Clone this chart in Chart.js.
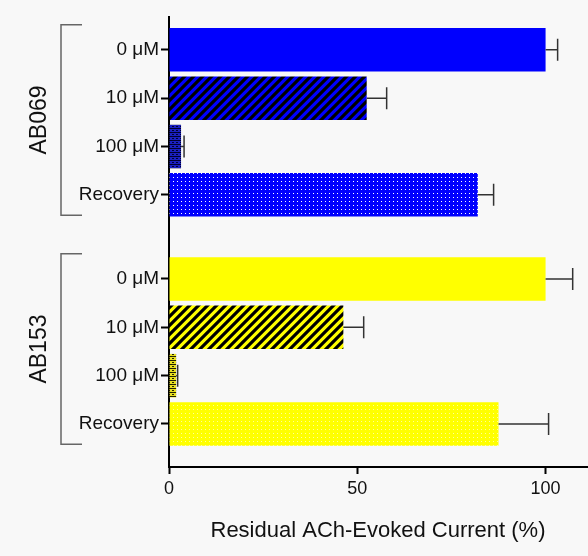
<!DOCTYPE html>
<html>
<head>
<meta charset="utf-8">
<script src="https://cdn.jsdelivr.net/npm/chart.js@4"></script>
<style>
  body { margin: 0; background: #f8f8f8; }
  canvas { display: block; }
</style>
</head>
<body>
<canvas id="chart" width="588" height="556"></canvas>
<script>
// data
var conditions = ["0 \u03bcM", "10 \u03bcM", "100 \u03bcM", "Recovery"]
var groups = ["AB069", "AB153"]
var ab069 = [100, 52.5, 3.2, 82]
var ab069Err = [3.2, 5.3, 0.8, 4.2]
var ab153 = [100, 46.3, 1.9, 87.5]
var ab153Err = [7.2, 5.4, 0.4, 13.3]
var xTicks = [0, 50, 100]
// row positions on the y axis (gap between the two groups)
var rows = [0, 1, 2, 3, 4.74, 5.74, 6.74, 7.74]

var allLabels = conditions.concat(conditions)
var font = "'Liberation Sans', Arial, Helvetica, sans-serif"

function pattern(kind, color, dot) {
    if (kind == "solid") return color
    var c = document.createElement("canvas")
    var g = c.getContext("2d")
    var s = kind == "stripes" ? 9 : 4
    c.width = s; c.height = s
    g.fillStyle = color
    g.fillRect(0, 0, s, s)
    if (kind == "stripes") {
        g.strokeStyle = "#000"
        g.lineWidth = 3.2
        g.beginPath()
        g.moveTo(-2, 2); g.lineTo(2, -2)
        g.moveTo(0, s); g.lineTo(s, 0)
        g.moveTo(s - 2, s + 2); g.lineTo(s + 2, s - 2)
        g.stroke()
    } else if (kind == "grid") {
        g.fillStyle = dot
        g.fillRect(0, 0, s, 1)
        g.fillRect(0, 2, 2, 1)
    } else if (kind == "dots") {
        g.fillStyle = dot
        g.fillRect(1, 1, 1, 1)
    }
    return g.createPattern(c, "repeat")
}

var blue = "#0000fe"
var yellow = "#ffff00"
var blueFills = [pattern("solid", blue), pattern("stripes", blue), pattern("grid", "#1a20c0", "#000030"), pattern("dots", blue, "#ffffff")]
var yellowFills = [pattern("solid", yellow), pattern("stripes", yellow), pattern("grid", "#e8e020", "#222200"), pattern("dots", yellow, "#ffff9a")]

var errors = [ab069Err, ab153Err]

var extras = {
    id: "extras",
    afterDatasetsDraw: function(chart) {
        var ctx = chart.ctx
        var x = chart.scales.x, y = chart.scales.y
        ctx.save()
        // error bars
        ctx.strokeStyle = "#333"
        ctx.lineWidth = 1.5
        chart.data.datasets.forEach(function(ds, d) {
            ds.data.forEach(function(pt, i) {
                var x0 = x.getPixelForValue(pt.x)
                var x1 = x.getPixelForValue(pt.x + errors[d][i])
                var py = y.getPixelForValue(pt.y)
                ctx.beginPath()
                ctx.moveTo(x0, py); ctx.lineTo(x1, py)
                ctx.moveTo(x1, py - 11); ctx.lineTo(x1, py + 11)
                ctx.stroke()
            })
        })
        // group brackets and labels
        groups.forEach(function(name, gi) {
            var first = rows[gi * 4], last = rows[gi * 4 + 3]
            var top = y.getPixelForValue(first - 0.52)
            var bottom = y.getPixelForValue(last + 0.42)
            ctx.strokeStyle = "#666"
            ctx.lineWidth = 1.5
            ctx.beginPath()
            ctx.moveTo(82, top); ctx.lineTo(61, top); ctx.lineTo(61, bottom); ctx.lineTo(82, bottom)
            ctx.stroke()
            ctx.save()
            ctx.translate(40, (top + bottom) / 2)
            ctx.rotate(-Math.PI / 2)
            ctx.fillStyle = "#111"
            ctx.font = "23px " + font
            ctx.textAlign = "center"
            ctx.textBaseline = "middle"
            ctx.fillText(name, 0, 0)
            ctx.restore()
        })
        ctx.restore()
    }
}

new Chart(document.getElementById("chart"), {
    type: "bar",
    data: {
        datasets: [{
            label: groups[0],
            data: ab069.map(function(v, i) { return {x: v, y: rows[i]} }),
            backgroundColor: blueFills
        }, {
            label: groups[1],
            data: ab153.map(function(v, i) { return {x: v, y: rows[i + 4]} }),
            backgroundColor: yellowFills
        }]
    },
    options: {
        indexAxis: "y",
        responsive: false,
        animation: false,
        grouped: false,
        barPercentage: 0.9,
        categoryPercentage: 1,
        layout: { padding: { top: 17, right: 1, left: 0, bottom: 0 } },
        plugins: { legend: { display: false }, tooltip: { enabled: false } },
        scales: {
            x: {
                type: "linear",
                min: 0,
                max: 111,
                afterBuildTicks: function(s) { s.ticks = xTicks.map(function(v) { return {value: v} }) },
                afterFit: function(s) { s.height = 89 },
                border: { color: "#000", width: 2 },
                grid: { drawOnChartArea: false, tickLength: 7, tickWidth: 2, tickColor: "#000" },
                ticks: { color: "#111", font: { size: 18, family: font }, padding: 4 },
                title: {
                    display: true,
                    text: "Residual ACh-Evoked Current (%)",
                    color: "#111",
                    font: { size: 22, family: font },
                    padding: { top: 0, bottom: 12 }
                }
            },
            y: {
                type: "linear",
                reverse: true,
                offset: false,
                min: -0.68,
                max: 8.63,
                afterBuildTicks: function(s) { s.ticks = rows.map(function(v) { return {value: v} }) },
                afterFit: function(s) { s.width = 169 },
                border: { color: "#000", width: 2 },
                grid: { offset: false, drawOnChartArea: false, tickLength: 8, tickWidth: 2, tickColor: "#000" },
                ticks: {
                    color: "#111",
                    font: { size: 19, family: font },
                    padding: 2,
                    autoSkip: false,
                    callback: function(v, i) { return allLabels[i] }
                }
            }
        }
    },
    plugins: [extras]
})
</script>
</body>
</html>
